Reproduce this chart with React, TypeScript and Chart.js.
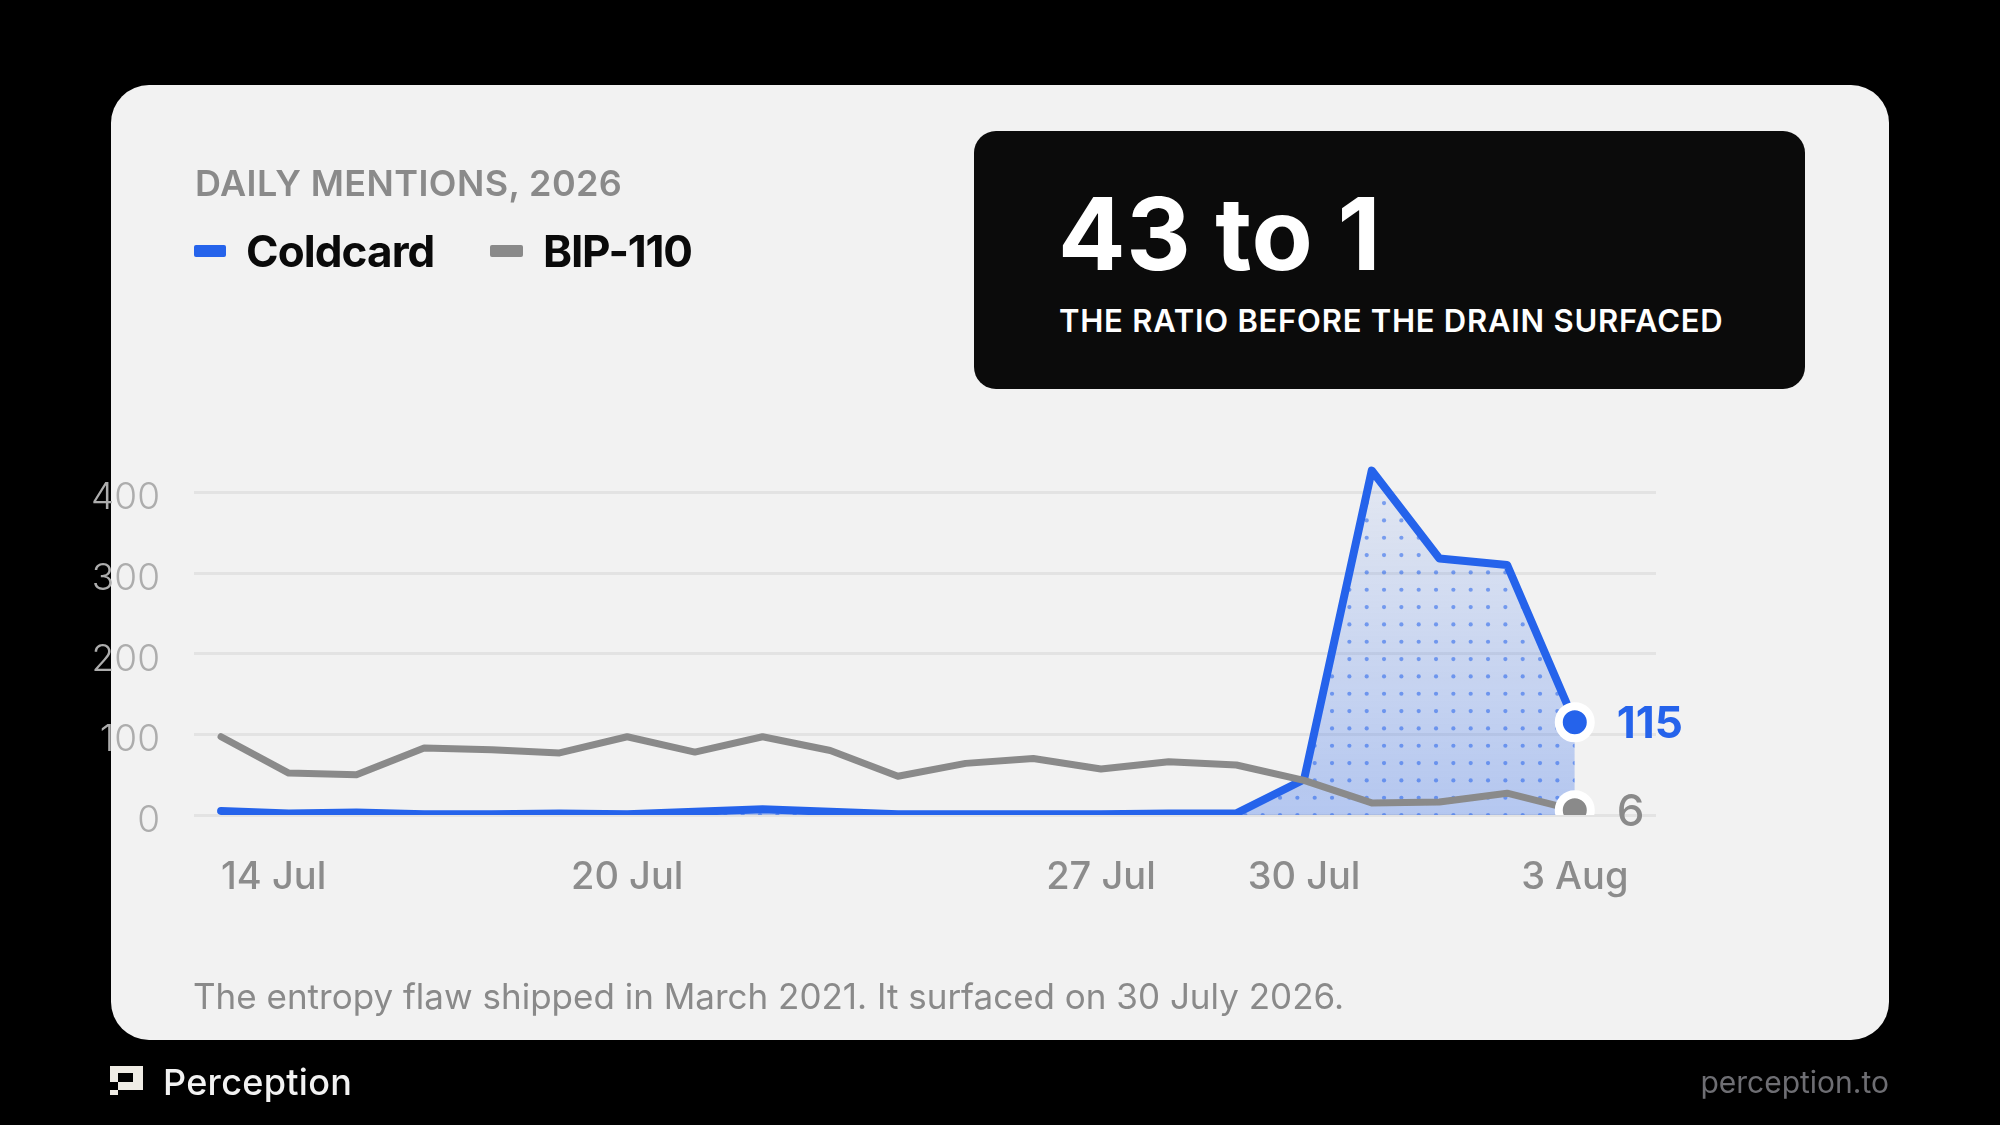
import { useEffect, useRef } from "react";
import { Chart, registerables } from "chart.js";

Chart.register(...registerables);

// data
const dates = [
  "14 Jul", "15 Jul", "16 Jul", "17 Jul", "18 Jul", "19 Jul", "20 Jul",
  "21 Jul", "22 Jul", "23 Jul", "24 Jul", "25 Jul", "26 Jul", "27 Jul",
  "28 Jul", "29 Jul", "30 Jul", "31 Jul", "1 Aug", "2 Aug", "3 Aug",
];
const coldcard = [5, 2, 3, 1, 1, 2, 1, 4, 7, 4, 1, 1, 1, 1, 2, 2, 44, 427, 318, 310, 115];
const bip110 = [97, 52, 50, 83, 81, 77, 97, 78, 97, 80, 48, 64, 70, 57, 66, 62, 43, 15, 16, 27, 6];
const yTicks = [0, 100, 200, 300, 400];
const xTickIdx = [0, 6, 13, 16, 20];

const BLUE = "#2563eb";
const GRAY = "#8a8a8a";
const FONT = "Inter, 'Noto Sans', sans-serif";

const lastOnly = (r: number) => (ctx: any) =>
  ctx.dataIndex === ctx.dataset.data.length - 1 ? r : 0;

let patternCache: { h: number; top: number; bottom: number; pat: CanvasPattern } | null = null;

// gradient + dot grid under the Coldcard line
const dottedFill = (ctx: any) => {
  const chart = ctx.chart;
  const area = chart.chartArea;
  if (!area) return "rgba(37,99,235,0.2)";
  const h = chart.height;
  if (patternCache && patternCache.h === h && patternCache.top === area.top && patternCache.bottom === area.bottom) {
    return patternCache.pat;
  }
  const tile = document.createElement("canvas");
  tile.width = 52;
  tile.height = h;
  const t = tile.getContext("2d")!;
  const g = t.createLinearGradient(0, area.top, 0, area.bottom);
  g.addColorStop(0, "rgba(37,99,235,0.06)");
  g.addColorStop(1, "rgba(37,99,235,0.30)");
  t.fillStyle = g;
  t.fillRect(0, 0, 52, h);
  t.fillStyle = "rgba(37,99,235,0.55)";
  const step = 52 / 3;
  for (let y = 0.4; y < h; y += step) {
    for (let k = 0; k < 3; k++) {
      t.beginPath();
      t.arc(14.7 + k * step, y, 2.1, 0, Math.PI * 2);
      t.fill();
    }
  }
  const pat = t.createPattern(tile, "repeat")!;
  patternCache = { h, top: area.top, bottom: area.bottom, pat };
  return pat;
};

// x labels and the end value labels
const labelsPlugin = {
  id: "labels",
  afterDatasetsDraw(chart: any) {
    const { ctx, scales, chartArea } = chart;
    const xs = scales.x;
    ctx.save();
    ctx.font = `500 38px ${FONT}`;
    ctx.fillStyle = "#8c8c8c";
    ctx.textBaseline = "alphabetic";
    xTickIdx.forEach((i, n) => {
      ctx.textAlign = n === 0 ? "left" : "center";
      ctx.fillText(dates[i], xs.getPixelForValue(i), chartArea.bottom + 74);
    });
    const ends = [
      { ds: 1, color: BLUE, weight: 700 },
      { ds: 0, color: GRAY, weight: 500 },
    ];
    ends.forEach((e) => {
      const meta = chart.getDatasetMeta(e.ds);
      const pt = meta.data[meta.data.length - 1];
      const val = chart.data.datasets[e.ds].data[meta.data.length - 1].y;
      ctx.font = `${e.weight} 44px ${FONT}`;
      ctx.fillStyle = e.color;
      ctx.textAlign = "left";
      ctx.fillText(String(val), pt.x + 42, pt.y + 16);
    });
    ctx.restore();
  },
};

const LineChart = () => {
  const canvasRef = useRef<HTMLCanvasElement>(null);
  const chartRef = useRef<Chart>();

  useEffect(() => {
    if (!canvasRef.current) return;
    document.body.style.margin = "0";
    document.body.style.background = "#000";

    if (chartRef.current) chartRef.current.destroy();

    chartRef.current = new Chart(canvasRef.current, {
      type: "line",
      data: {
        datasets: [
          {
            label: "BIP-110",
            data: bip110.map((v, i) => ({ x: i, y: v })),
            borderColor: GRAY,
            borderWidth: 7,
            borderJoinStyle: "round",
            borderCapStyle: "round",
            fill: false,
            tension: 0,
            pointRadius: lastOnly(16),
            pointBackgroundColor: GRAY,
            pointBorderColor: "#ffffff",
            pointBorderWidth: 8,
            order: 1,
          },
          {
            label: "Coldcard",
            data: coldcard.map((v, i) => ({ x: i, y: v })),
            borderColor: BLUE,
            borderWidth: 8,
            borderJoinStyle: "round",
            borderCapStyle: "round",
            fill: "origin",
            backgroundColor: dottedFill,
            tension: 0,
            pointRadius: lastOnly(16),
            pointBackgroundColor: BLUE,
            pointBorderColor: "#ffffff",
            pointBorderWidth: 8,
            order: 2,
          },
        ],
      },
      options: {
        animation: false,
        responsive: false,
        events: [],
        layout: { padding: { left: 0, right: 344, top: 452, bottom: 310 } },
        plugins: { legend: { display: false }, tooltip: { enabled: false } },
        scales: {
          x: { type: "linear", min: -0.4, max: 21.2, display: false },
          y: {
            min: 0,
            max: 450,
            afterBuildTicks: (s: any) => {
              s.ticks = yTicks.map((v) => ({ value: v }));
            },
            afterFit: (s: any) => {
              s.width = 194;
            },
            grid: { color: "#e3e3e3", lineWidth: 3, drawTicks: false },
            border: { display: false },
            ticks: {
              padding: 34,
              labelOffset: 6,
              color: "#adadad",
              font: { family: FONT, size: 37, weight: 300 },
            },
          },
        },
      },
      plugins: [labelsPlugin],
    });

    return () => {
      if (chartRef.current) {
        chartRef.current.destroy();
        chartRef.current = undefined;
      }
    };
  }, []);

  return (
    <canvas
      ref={canvasRef}
      width={2000}
      height={1125}
      style={{ position: "absolute", left: 0, top: 0, width: 2000, height: 1125, zIndex: 1 }}
    ></canvas>
  );
};

const abs = (o: any) => ({ position: "absolute" as const, lineHeight: 1, whiteSpace: "nowrap" as const, ...o });

export default function App() {
  return (
    <div style={{ position: "absolute", left: 0, top: 0, width: 2000, height: 1125, background: "#000", fontFamily: FONT, overflow: "hidden" }}>
      <div style={abs({ left: 111, top: 85, width: 1778, height: 955, borderRadius: 38, background: "#f2f2f2" })} />
      <LineChart />
      <div style={abs({ zIndex: 2, left: 195, top: 165, fontSize: 36, fontWeight: 600, color: "#8a8a8a", letterSpacing: 0.4 })}>DAILY MENTIONS, 2026</div>
      <div style={abs({ zIndex: 2, left: 194, top: 245, width: 32, height: 12, background: BLUE, borderRadius: 2 })} />
      <div style={abs({ zIndex: 2, left: 246, top: 229, fontSize: 44, fontWeight: 700, color: "#0a0a0a", letterSpacing: -0.9 })}>Coldcard</div>
      <div style={abs({ zIndex: 2, left: 490, top: 245, width: 33, height: 12, background: GRAY, borderRadius: 2 })} />
      <div style={abs({ zIndex: 2, left: 543, top: 229, fontSize: 44, fontWeight: 700, color: "#0a0a0a", letterSpacing: -1.2 })}>BIP-110</div>

      <div style={abs({ zIndex: 2, left: 974, top: 131, width: 831, height: 258, borderRadius: 22, background: "#0b0b0b" })} />
      <div style={abs({ zIndex: 3, left: 1058, top: 184, fontSize: 100, fontWeight: 700, color: "#ffffff", letterSpacing: 0.5 })}>43 to 1</div>
      <div style={abs({ zIndex: 3, left: 1059, top: 305, fontSize: 31, fontWeight: 600, color: "#ffffff", letterSpacing: 0.75 })}>THE RATIO BEFORE THE DRAIN SURFACED</div>

      <div style={abs({ zIndex: 2, left: 193, top: 979, fontSize: 35, fontWeight: 400, color: "#8a8a8a" })}>
        The entropy flaw shipped in March 2021. It surfaced on 30 July 2026.
      </div>

      <svg style={{ position: "absolute", left: 110, top: 1066, zIndex: 2 }} width={33} height={29} viewBox="0 0 33 29">
        <g fill="#efece5">
          <rect x={0} y={0} width={33} height={7} />
          <rect x={23} y={0} width={10} height={24} />
          <rect x={8} y={16} width={25} height={8} />
          <rect x={0} y={0} width={8} height={16} />
          <rect x={0} y={24} width={8} height={5} />
        </g>
      </svg>
      <div style={abs({ zIndex: 2, left: 163, top: 1064, fontSize: 36, fontWeight: 500, color: "#f2f2f2", letterSpacing: 0.3 })}>Perception</div>
      <div style={abs({ zIndex: 2, right: 2000 - 1889, top: 1067, fontSize: 30, fontWeight: 400, color: "#6e6e73" })}>perception.to</div>
    </div>
  );
}
